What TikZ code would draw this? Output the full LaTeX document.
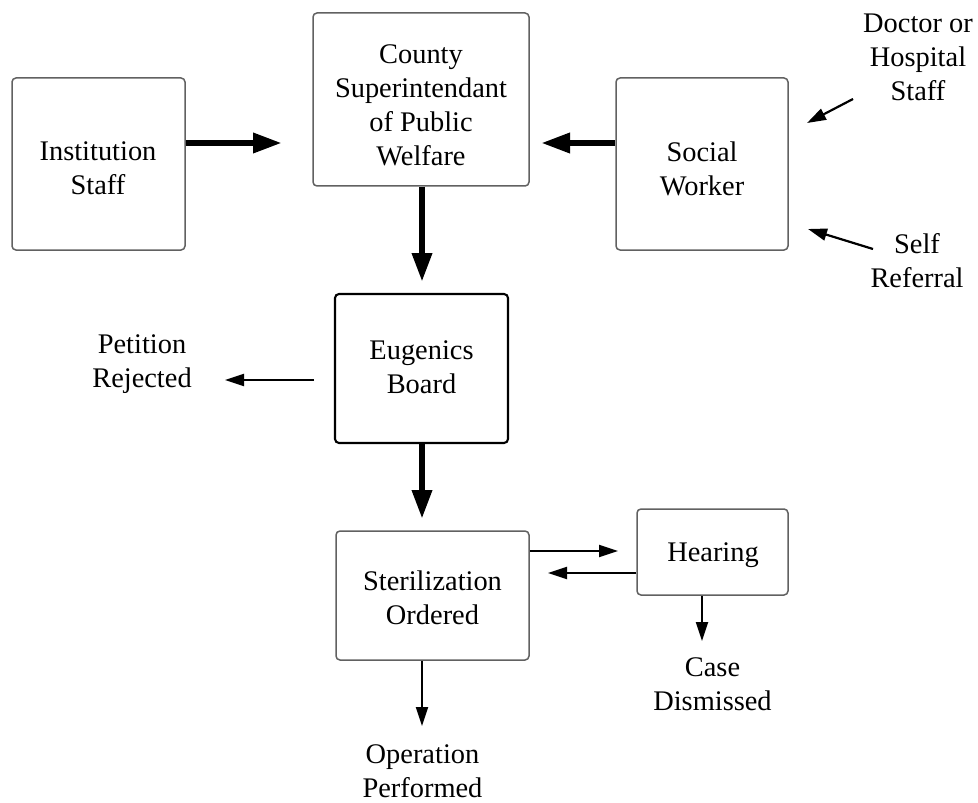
\documentclass[tikz,border=0pt]{standalone}
\usepackage{fontspec}
\setmainfont{Liberation Serif}
\usetikzlibrary{arrows.meta}
\begin{document}
\begin{tikzpicture}[x=0.5pt,y=-0.5pt,
  box/.style={draw=black!62,line width=0.75pt,rounded corners=2pt,inner sep=0pt},
  boldbox/.style={draw=black,line width=1.05pt,rounded corners=2pt,inner sep=0pt},
  txt/.style={align=center,inner sep=0pt,text depth=0pt,font=\fontsize{14.2}{17}\selectfont},
  bigarrow/.style={line width=3.2pt,-{Triangle[length=14.5pt,width=9.5pt]}},
  smallarrow/.style={line width=1.1pt,-{Triangle[length=9.5pt,width=6pt]}}]
\useasboundingbox (0,0) rectangle (978,802);
% boxes
\node[box,minimum width=86.5pt,minimum height=86pt] (inst) at (98.5,164) {};
\node[box,minimum width=108pt,minimum height=86.5pt] (county) at (421,99.5) {};
\node[box,minimum width=86pt,minimum height=86pt] (social) at (702,164) {};
\node[boldbox,minimum width=86.5pt,minimum height=74.5pt] (eug) at (421.5,368.5) {};
\node[box,minimum width=96.5pt,minimum height=64.5pt] (steril) at (432.5,595.5) {};
\node[box,minimum width=75.5pt,minimum height=43pt] (hear) at (712.5,552) {};
% texts
\node[txt] (tinst) at (98,168.5) {Institution\\Staff};
\node[txt] (tcounty) at (421,105.5) {County\\Superintendant\\of Public\\Welfare};
\node[txt] (tsocial) at (702,168.5) {Social\\Worker};
\node[txt] (teug) at (421.5,367.5) {Eugenics\\Board};
\node[txt] (tsteril) at (432.5,598) {Sterilization\\Ordered};
\node[txt] (thear) at (713,552.5) {Hearing};
\node[txt] (doctor) at (918,57.5) {Doctor or\\Hospital\\Staff};
\node[txt] (self) at (917,260) {Self\\Referral};
\node[txt] (petition) at (142,361.5) {Petition\\Rejected};
\node[txt] (case) at (712.5,684) {Case\\Dismissed};
\node[txt] (oper) at (422.5,771.5) {Operation\\Performed};
% arrow ends
\coordinate (e1) at (282,143);
\coordinate (e2) at (541,143);
\coordinate (e3) at (422,282);
\coordinate (e4) at (422,519);
\coordinate (ds) at (853,99);
\coordinate (de) at (807,123);
\coordinate (ss) at (873,249);
\coordinate (se) at (808,229);
\coordinate (ps) at (314,380);
\coordinate (pe) at (225,380);
\coordinate (e5) at (618,551);
\coordinate (e6) at (548,573);
\coordinate (e7) at (702,641);
\coordinate (e8) at (422,726);
% connectors
\draw[bigarrow] (inst.east |- e1) -- (e1);
\draw[bigarrow] (social.west |- e2) -- (e2);
\draw[bigarrow] (county.south -| e3) -- (e3);
\draw[bigarrow] (eug.south -| e4) -- (e4);
\draw[smallarrow] (ds) -- (de);
\draw[smallarrow] (ss) -- (se);
\draw[smallarrow] (ps) -- (pe);
\draw[smallarrow] (steril.east |- e5) -- (e5);
\draw[smallarrow] (hear.west |- e6) -- (e6);
\draw[smallarrow] (hear.south -| e7) -- (e7);
\draw[smallarrow] (steril.south -| e8) -- (e8);
\end{tikzpicture}
\end{document}
